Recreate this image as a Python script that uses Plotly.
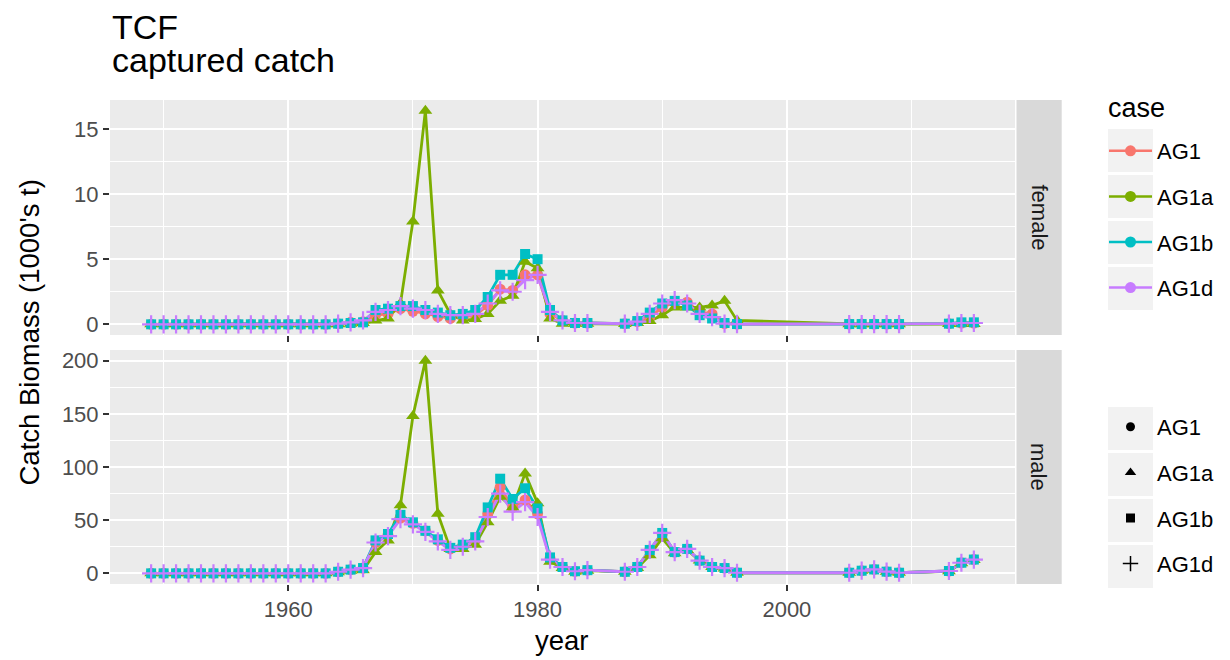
import plotly.graph_objects as go
from plotly.subplots import make_subplots

years = (list(range(1949, 1985)) + list(range(1987, 1997))
         + list(range(2005, 2010)) + list(range(2013, 2016)))

cases = ["AG1", "AG1a", "AG1b", "AG1d"]
colors = ["#F8766D", "#7CAE00", "#00BFC4", "#C77CFF"]
symbols = ["circle", "triangle-up", "square", "cross-thin"]
sexes = ["female", "male"]

# catch biomass (1000's t), one list per case and sex
female_AG1 = [0, 0, 0, 0, 0, 0, 0, 0, 0, 0, 0, 0, 0, 0, 0,
              0.05, 0.15, 0.2, 0.7, 0.8, 1.2, 1.0, 0.8, 0.6, 0.45, 0.55, 0.7, 1.45, 2.7, 2.6, 3.8, 3.8, 0.8, 0.3, 0.1, 0.1,
              0.05, 0.2, 0.55, 1.3, 1.7, 1.7, 0.95, 0.8, 0.05, 0.02,
              0.02, 0.02, 0.02, 0.02, 0.02,
              0.05, 0.1, 0.1]
female_AG1a = [0, 0, 0, 0, 0, 0, 0, 0, 0, 0, 0, 0, 0, 0, 0,
               0, 0.05, 0.1, 0.3, 0.45, 1.6, 7.9, 16.4, 2.6, 0.8, 0.3, 0.4, 0.8, 1.8, 2.2, 4.8, 4.3, 0.45, 0.05, 0.05, 0.05,
               0.02, 0.1, 0.25, 0.7, 1.3, 1.3, 1.3, 1.45, 1.8, 0.3,
               0.01, 0.01, 0.01, 0.01, 0.01,
               0.02, 0.02, 0.02]
female_AG1b = [0, 0, 0, 0, 0, 0, 0, 0, 0, 0, 0, 0, 0, 0, 0,
               0.05, 0.1, 0.15, 1.1, 1.2, 1.4, 1.4, 1.1, 0.9, 0.7, 0.8, 1.1, 2.1, 3.8, 3.8, 5.4, 5.0, 1.1, 0.3, 0.1, 0.1,
               0.05, 0.25, 0.9, 1.6, 1.8, 1.45, 0.7, 0.45, 0.1, 0.02,
               0.02, 0.02, 0.02, 0.02, 0.02,
               0.05, 0.15, 0.15]
female_AG1d = [0, 0, 0, 0, 0, 0, 0, 0, 0, 0, 0, 0, 0, 0, 0,
               0.05, 0.15, 0.3, 0.95, 1.1, 1.4, 1.2, 1.1, 0.8, 0.7, 0.7, 0.8, 1.6, 2.6, 2.5, 3.4, 3.8, 0.95, 0.3, 0.1, 0.1,
               0.05, 0.2, 0.8, 1.6, 1.85, 1.6, 0.8, 0.55, 0.05, 0.02,
               0.02, 0.02, 0.02, 0.02, 0.02,
               0.05, 0.1, 0.1]

male_AG1 = [0, 0, 0, 0, 0, 0, 0, 0, 0, 0, 0, 0, 0, 0, 0,
            1.5, 3.5, 5, 29, 36, 52, 47, 40, 31, 23, 26, 31, 56, 81, 62, 69, 56, 14, 6, 2, 3,
            1.5, 6, 22, 37, 20, 23, 12, 6, 5, 0.6,
            0.6, 2.5, 3.7, 1.6, 0.6,
            2.2, 10, 13]
male_AG1a = [0, 0, 0, 0, 0, 0, 0, 0, 0, 0, 0, 0, 0, 0, 0,
             1, 2.5, 3, 20, 31, 64, 148, 200, 56, 23, 23, 27, 48, 72, 62, 94, 66, 11, 5, 1.5, 2.5,
             1.5, 5, 17, 33, 19, 22, 12, 6, 4.5, 0.5,
             0.6, 2.4, 3.5, 1.5, 0.6,
             2, 9.5, 12.5]
male_AG1b = [0, 0, 0, 0, 0, 0, 0, 0, 0, 0, 0, 0, 0, 0, 0,
             1.5, 3.5, 5, 31, 37, 55, 48, 40, 32, 24, 27, 34, 62, 89, 70, 80, 61, 15, 6, 2, 3,
             1.5, 6, 22, 38, 20, 23, 12, 6, 5, 0.6,
             0.6, 2.5, 3.7, 1.6, 0.6,
             2.2, 10, 13]
male_AG1d = [0, 0, 0, 0, 0, 0, 0, 0, 0, 0, 0, 0, 0, 0, 0,
             1.5, 3.5, 5, 29, 35, 51, 46, 39, 30, 22, 25, 30, 53, 75, 58, 67, 53, 13, 6, 2, 3,
             1.5, 6, 22, 38, 20, 23, 12, 6, 5, 0.6,
             0.6, 2.5, 3.7, 1.6, 0.6,
             2.2, 10, 13]

data = {
    "female": [female_AG1, female_AG1a, female_AG1b, female_AG1d],
    "male": [male_AG1, male_AG1a, male_AG1b, male_AG1d],
}

FONT = "Liberation Sans, Arial, sans-serif"
# the page body has an 8px margin, so the figure is a bit smaller and offset
OFF = 8
W, H = 1230 - OFF, 660 - OFF
L, R, T, B = 110 - OFF, 215, 100 - OFF, 76
PW, PH = W - L - R, H - T - B


def px(x):
    return (x - OFF - L) / PW


def py(y):
    return (H - B - (y - OFF)) / PH


fig = make_subplots(rows=2, cols=1, shared_xaxes=True)

msize = [11, 12, 10, 13]

# lines first, then points (ggplot layer order)
for r, sex in enumerate(sexes, start=1):
    for i, case in enumerate(cases):
        fig.add_trace(go.Scatter(x=years, y=data[sex][i], mode="lines",
                                 line=dict(color=colors[i], width=2.8),
                                 showlegend=False, hoverinfo="skip"), row=r, col=1)
for r, sex in enumerate(sexes, start=1):
    for i, case in enumerate(cases):
        mk = dict(color=colors[i], symbol=symbols[i], size=msize[i])
        if symbols[i] == "cross-thin":
            mk.update(line=dict(color=colors[i], width=2.2))
        fig.add_trace(go.Scatter(x=years, y=data[sex][i], mode="markers", marker=mk,
                                 name=case, showlegend=False), row=r, col=1)

# legend entries
for i, case in enumerate(cases):
    fig.add_trace(go.Scatter(x=[None], y=[None], mode="lines+markers", name=case,
                             line=dict(color=colors[i], width=2.5),
                             marker=dict(color=colors[i], symbol="circle", size=11),
                             legend="legend", legendgroup="c" + case))
for i, case in enumerate(cases):
    mk = dict(color="black", symbol=symbols[i], size=[9, 10, 9, 11][i])
    if symbols[i] == "cross-thin":
        mk.update(line=dict(color="black", width=1.5))
    fig.add_trace(go.Scatter(x=[None], y=[None], mode="markers", name=case, marker=mk,
                             legend="legend2", legendgroup="s" + case))

# axes
fig.update_xaxes(range=[1945.7, 2018.3], tick0=1960, dtick=20, showticklabels=False,
                 ticks="outside", ticklen=6, tickcolor="#333333", tickwidth=1.5,
                 gridcolor="white", gridwidth=2, zeroline=False, showline=False,
                 minor=dict(dtick=10, tick0=1950, showgrid=True, gridcolor="white", gridwidth=1),
                 tickfont=dict(size=22, color="#4D4D4D", family=FONT))
fig.update_xaxes(showticklabels=True, row=2, col=1)

for r, sex in enumerate(sexes, start=1):
    allv = [v for s in data[sex] for v in s]
    lo, hi = min(allv), max(allv)
    pad = 0.05 * (hi - lo)
    step = 5 if sex == "female" else 50
    fig.update_yaxes(range=[lo - pad, hi + pad], tick0=0, dtick=step,
                     ticks="outside", ticklen=6, tickcolor="#333333", tickwidth=1.5,
                     gridcolor="white", gridwidth=2, zeroline=False, showline=False,
                     minor=dict(dtick=step / 2, tick0=0, showgrid=True, gridcolor="white", gridwidth=1),
                     tickfont=dict(size=22, color="#4D4D4D", family=FONT), row=r, col=1)

fig.update_layout(
    width=W, height=H,
    margin=dict(l=L, r=R, t=T, b=B, autoexpand=False),
    paper_bgcolor="white", plot_bgcolor="#EBEBEB",
    font=dict(family=FONT, color="black"),
    yaxis=dict(domain=[py(335), 1]),
    yaxis2=dict(domain=[0, py(350)]),
    legend=dict(x=px(1104), y=py(130), xanchor="left", yanchor="top",
                font=dict(size=22), itemwidth=43, tracegroupgap=14,
                bgcolor="rgba(0,0,0,0)"),
    legend2=dict(x=px(1104), y=py(406), xanchor="left", yanchor="top",
                 font=dict(size=22), itemwidth=43, tracegroupgap=14,
                 bgcolor="rgba(0,0,0,0)"),
)

shapes = []
# facet strips
for (y0, y1) in [(100, 335), (350, 584)]:
    shapes.append(dict(type="rect", xref="paper", yref="paper", x0=px(1016.5), x1=px(1061.7),
                       y0=py(y1), y1=py(y0), fillcolor="#D9D9D9", line=dict(width=0), layer="below"))
# legend key backgrounds
for top in [129, 175, 221, 267, 407, 453, 499, 545]:
    shapes.append(dict(type="rect", xref="paper", yref="paper", x0=px(1108), x1=px(1153),
                       y0=py(top + 43), y1=py(top), fillcolor="#F2F2F2", line=dict(width=0), layer="below"))
fig.update_layout(shapes=shapes)

ann = [
    dict(text="TCF", x=px(110), y=py(26.7), xanchor="left", yanchor="middle",
         font=dict(size=34)),
    dict(text="captured catch", x=px(110), y=py(60.2), xanchor="left", yanchor="middle",
         font=dict(size=34)),
    dict(text="case", x=px(1106), y=py(108), xanchor="left", yanchor="middle",
         font=dict(size=27)),
    dict(text="female", x=px(1039), y=py(217.5), textangle=90, font=dict(size=22, color="#1A1A1A")),
    dict(text="male", x=px(1039), y=py(467), textangle=90, font=dict(size=22, color="#1A1A1A")),
    dict(text="Catch Biomass (1000's t)", x=px(29), y=py(332.5), textangle=-90,
         font=dict(size=27.5)),
    dict(text="year", x=px(561.5), y=py(640), font=dict(size=27.5)),
]
for a in ann:
    a.update(xref="paper", yref="paper", showarrow=False)
    if "xanchor" not in a:
        a.update(xanchor="center", yanchor="middle")
fig.update_layout(annotations=ann)

fig.write_html("out.html")
